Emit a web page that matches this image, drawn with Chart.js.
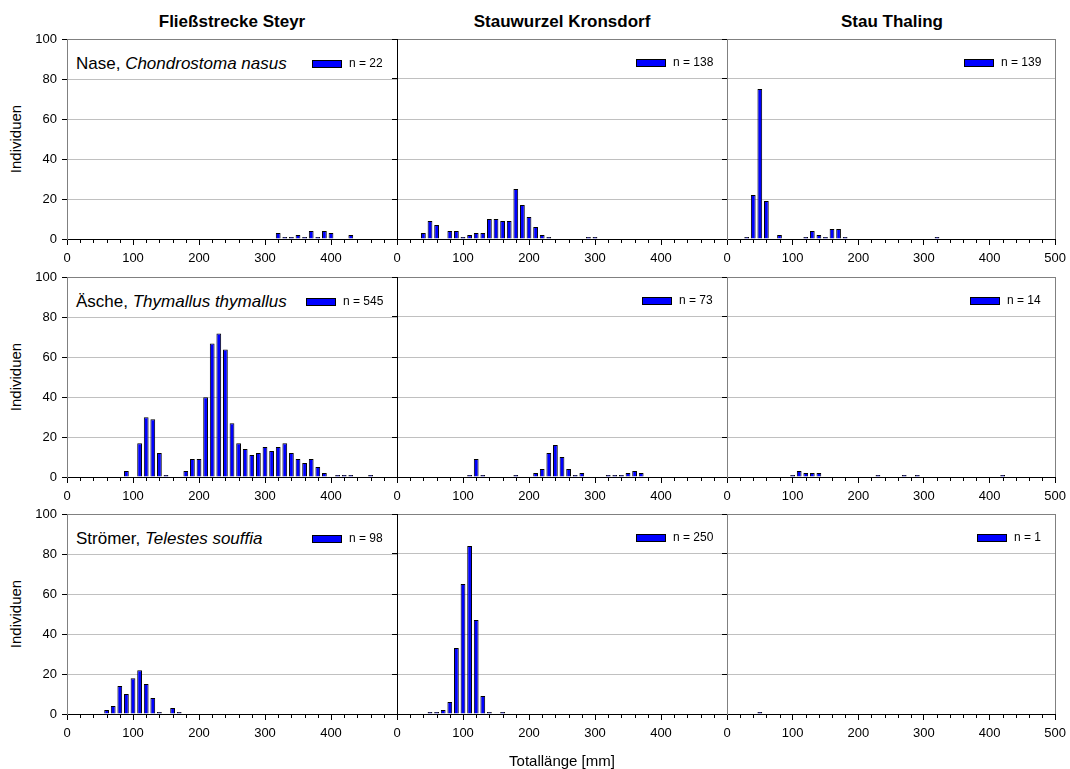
<!DOCTYPE html>
<html>
<head>
<meta charset="utf-8">
<script src="https://cdn.jsdelivr.net/npm/chart.js@4.4.0/dist/chart.umd.min.js"></script>
<style>
  body { margin: 0; background: #fff; font-family: "Liberation Sans", Arial, sans-serif; color: #000; }
  #wrap { position: relative; width: 1070px; height: 769px; overflow: hidden; }
  #wrap canvas { position: absolute; }
  .lbl { position: absolute; white-space: nowrap; }
  .colTitle { font-weight: bold; font-size: 17px; text-align: center; width: 330px; line-height: 20px; }
  .species { font-size: 17px; line-height: 22px; }
  .ylab { font-size: 15px; width: 200px; height: 20px; line-height: 20px; text-align: center; transform: rotate(-90deg); }
  .xlab { font-size: 15px; width: 300px; text-align: center; line-height: 20px; }
</style>
</head>
<body>
<div id="wrap"></div>
<script>
// length classes (bin centres, mm)
const lengthBins = [10, 20, 30, 40, 50, 60, 70, 80, 90, 100,
  110, 120, 130, 140, 150, 160, 170, 180, 190, 200,
  210, 220, 230, 240, 250, 260, 270, 280, 290, 300,
  310, 320, 330, 340, 350, 360, 370, 380, 390, 400,
  410, 420, 430, 440, 450, 460, 470, 480, 490];
const xTicks = [0, 100, 200, 300, 400, 500];
const yTicks = [0, 20, 40, 60, 80, 100];

const stations = ['Fließstrecke Steyr', 'Stauwurzel Kronsdorf', 'Stau Thaling'];
const speciesNames = [['Nase, ', 'Chondrostoma nasus'], ['Äsche, ', 'Thymallus thymallus'], ['Strömer, ', 'Telestes souffia']];

// Nase
const naseSteyr = [0, 0, 0, 0, 0, 0, 0, 0, 0, 0,
  0, 0, 0, 0, 0, 0, 0, 0, 0, 0,
  0, 0, 0, 0, 0, 0, 0, 0, 0, 0,
  0, 3, 1, 1, 2, 1, 4, 1, 4, 3,
  0, 0, 2, 0, 0, 0, 0, 0, 0];
const naseKronsdorf = [0, 0, 0, 3, 9, 7, 0, 4, 4, 1,
  2, 3, 3, 10, 10, 9, 9, 25, 17, 11,
  6, 2, 1, 0, 0, 0, 0, 0, 1, 1,
  0, 0, 0, 0, 0, 0, 0, 0, 0, 0,
  0, 0, 0, 0, 0, 0, 0, 0, 0];
const naseThaling = [0, 0, 1, 22, 75, 19, 0, 2, 0, 0,
  0, 1, 4, 2, 1, 5, 5, 1, 0, 0,
  0, 0, 0, 0, 0, 0, 0, 0, 0, 0,
  0, 1, 0, 0, 0, 0, 0, 0, 0, 0,
  0, 0, 0, 0, 0, 0, 0, 0, 0];
// Äsche
const aescheSteyr = [0, 0, 0, 0, 0, 0, 0, 0, 3, 0,
  17, 30, 29, 12, 1, 0, 0, 3, 9, 9,
  40, 67, 72, 64, 27, 17, 14, 11, 12, 15,
  13, 15, 17, 12, 9, 7, 9, 5, 2, 0,
  1, 1, 1, 0, 0, 1, 0, 0, 0];
const aescheKronsdorf = [0, 0, 0, 0, 0, 0, 0, 0, 0, 0,
  1, 9, 1, 0, 0, 0, 0, 1, 0, 0,
  2, 4, 12, 16, 10, 4, 1, 2, 0, 0,
  0, 1, 1, 1, 2, 3, 2, 0, 0, 0,
  0, 0, 0, 0, 0, 0, 0, 0, 0];
const aescheThaling = [0, 0, 0, 0, 0, 0, 0, 0, 0, 1,
  3, 2, 2, 2, 0, 0, 0, 0, 0, 0,
  0, 0, 1, 0, 0, 0, 1, 0, 1, 0,
  0, 0, 0, 0, 0, 0, 0, 0, 0, 0,
  0, 1, 0, 0, 0, 0, 0, 0, 0];
// Strömer
const stroemerSteyr = [0, 0, 0, 0, 0, 2, 4, 14, 10, 18,
  22, 15, 8, 1, 0, 3, 1, 0, 0, 0,
  0, 0, 0, 0, 0, 0, 0, 0, 0, 0,
  0, 0, 0, 0, 0, 0, 0, 0, 0, 0,
  0, 0, 0, 0, 0, 0, 0, 0, 0];
const stroemerKronsdorf = [0, 0, 0, 0, 1, 1, 2, 6, 33, 65,
  84, 47, 9, 1, 0, 1, 0, 0, 0, 0,
  0, 0, 0, 0, 0, 0, 0, 0, 0, 0,
  0, 0, 0, 0, 0, 0, 0, 0, 0, 0,
  0, 0, 0, 0, 0, 0, 0, 0, 0];
const stroemerThaling = [0, 0, 0, 0, 1, 0, 0, 0, 0, 0,
  0, 0, 0, 0, 0, 0, 0, 0, 0, 0,
  0, 0, 0, 0, 0, 0, 0, 0, 0, 0,
  0, 0, 0, 0, 0, 0, 0, 0, 0, 0,
  0, 0, 0, 0, 0, 0, 0, 0, 0];

const panelData = [
  [naseSteyr, naseKronsdorf, naseThaling],
  [aescheSteyr, aescheKronsdorf, aescheThaling],
  [stroemerSteyr, stroemerKronsdorf, stroemerThaling]
];

const FONT = '"Liberation Sans", Arial, sans-serif';
Chart.defaults.font.family = FONT;
Chart.defaults.color = '#000';

const colLeft = [67, 397, 727];
const rowTop = [39, 277, 514];
const PW = 330, PH = 200;
const PAD_L = 45, PAD_T = 12, PAD_R = 15, PAD_B = 35;

const wrap = document.getElementById('wrap');

function addLabel(cls, html, style) {
  const d = document.createElement('div');
  d.className = 'lbl ' + cls;
  d.innerHTML = html;
  Object.assign(d.style, style);
  wrap.appendChild(d);
}

// minor ticks, right frame, legend box
const panelDecor = {
  id: 'panelDecor',
  afterDraw(chart, args, opts) {
    const { ctx, chartArea: a } = chart;
    const x = chart.scales.x;
    ctx.save();
    ctx.strokeStyle = '#000';
    ctx.lineWidth = 1;
    ctx.beginPath();
    for (let v = 20; v < 500; v += 20) {
      if (v % 100 === 0) continue;
      const px = Math.round(x.getPixelForValue(v)) + 0.5;
      ctx.moveTo(px, a.bottom);
      ctx.lineTo(px, a.bottom + 4);
    }
    ctx.stroke();
    if (opts.rightFrame) {
      ctx.strokeStyle = '#808080';
      ctx.beginPath();
      const rx = Math.round(a.right) + 0.5;
      ctx.moveTo(rx, a.top);
      ctx.lineTo(rx, a.bottom);
      ctx.stroke();
    }
    const n = opts.values.reduce((s, v) => s + v, 0);
    const label = 'n = ' + n;
    ctx.font = '12px ' + FONT;
    const tw = ctx.measureText(label).width;
    const tx = Math.round(a.right - 14 - tw);
    const ty = a.top + 24;
    const bx = tx - 37;
    const by = Math.round(ty - 4);
    ctx.fillStyle = '#0000ff';
    ctx.fillRect(bx, by, 30, 8);
    ctx.strokeStyle = '#000';
    ctx.strokeRect(bx + 0.5, by + 0.5, 29, 7);
    ctx.fillStyle = '#000';
    ctx.textBaseline = 'middle';
    ctx.fillText(label, tx, ty);
    ctx.restore();
  }
};

stations.forEach((name, c) => {
  addLabel('colTitle', name, { left: colLeft[c] + 'px', top: '12px' });
});

for (let r = 0; r < 3; r++) {
  addLabel('species', speciesNames[r][0] + '<i>' + speciesNames[r][1] + '</i>',
    { left: '76px', top: (rowTop[r] + 24.5 - 11) + 'px' });
  addLabel('ylab', 'Individuen', { left: (16 - 100) + 'px', top: (rowTop[r] + PH / 2 - 10) + 'px' });

  for (let c = 0; c < 3; c++) {
    const values = panelData[r][c];
    const cv = document.createElement('canvas');
    cv.width = PW + PAD_L + PAD_R;
    cv.height = PH + PAD_T + PAD_B;
    cv.style.left = (colLeft[c] - PAD_L) + 'px';
    cv.style.top = (rowTop[r] - PAD_T) + 'px';
    wrap.appendChild(cv);

    new Chart(cv, {
      type: 'bar',
      data: {
        datasets: [{
          data: lengthBins.map((b, i) => ({ x: b, y: values[i] === 0 ? null : values[i] })),
          backgroundColor: '#0000ff',
          borderColor: '#000',
          borderWidth: 1,
          borderSkipped: 'start',
          barPercentage: 0.72,
          categoryPercentage: 1.0
        }]
      },
      options: {
        responsive: false,
        animation: false,
        devicePixelRatio: 1,
        layout: { padding: { left: 0, top: PAD_T, right: PAD_R, bottom: 0 } },
        plugins: {
          legend: { display: false },
          tooltip: { enabled: false },
          panelDecor: { values: values, rightFrame: c === 2 }
        },
        scales: {
          x: {
            type: 'linear',
            min: 0,
            max: 500,
            offset: false,
            afterBuildTicks: (s) => { s.ticks = xTicks.map(v => ({ value: v })); },
            afterFit: (s) => { s.height = PAD_B; },
            ticks: {
              font: { size: 13 },
              padding: 6,
              maxRotation: 0,
              autoSkip: false,
              callback: (v) => (v === 500 && c < 2) ? '' : String(v)
            },
            grid: { drawOnChartArea: false, drawTicks: true, tickLength: 6, color: '#000', offset: false },
            border: { display: true, color: '#000', width: 1 }
          },
          y: {
            min: 0,
            max: 100,
            afterBuildTicks: (s) => { s.ticks = yTicks.map(v => ({ value: v })); },
            afterFit: (s) => { s.width = PAD_L; },
            ticks: { display: c === 0, font: { size: 13 }, padding: 5 },
            grid: {
              color: (ctx) => ctx.tick.value === 100 ? '#808080' : (ctx.tick.value === 0 ? 'rgba(0,0,0,0)' : '#c0c0c0'),
              tickColor: '#000',
              tickLength: 5,
              drawTicks: true
            },
            border: { display: true, color: c === 1 ? '#000' : '#808080', width: 1 }
          }
        }
      },
      plugins: [panelDecor]
    });
  }
}

addLabel('xlab', 'Totallänge [mm]', { left: (562 - 150) + 'px', top: (761 - 10) + 'px' });
</script>
</body>
</html>
